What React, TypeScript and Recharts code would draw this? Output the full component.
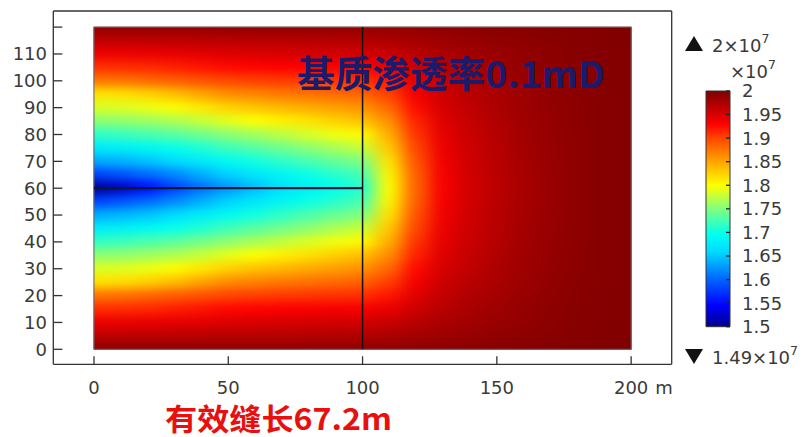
import React from 'react';
import { ScatterChart, Scatter, XAxis, YAxis, BarChart, Bar } from 'recharts';

// grid nodes, metres
const X_COORDS = [0, 10, 20, 30, 40, 50, 60, 70, 80, 90, 100, 110, 120, 130, 140, 150, 160, 170, 180, 190, 200];
const Y_COORDS = [120, 115, 110, 105, 100, 95, 90, 85, 80, 75, 70, 65, 60, 55, 50, 45, 40, 35, 30, 25, 20, 15, 10, 5, 0];

// pore pressure at each node, in units of 1e7 Pa (rows follow Y_COORDS)
const PRESSURE_ROWS = [
  [1.990, 1.990, 1.990, 1.990, 1.990, 1.990, 1.990, 1.990, 1.990, 1.990, 1.990, 1.990, 1.991, 1.992, 1.993, 1.994, 1.995, 1.996, 1.997, 1.998, 2.000],
  [1.965, 1.965, 1.966, 1.966, 1.967, 1.968, 1.968, 1.969, 1.970, 1.971, 1.972, 1.975, 1.979, 1.983, 1.986, 1.989, 1.991, 1.993, 1.995, 1.997, 1.998],
  [1.940, 1.940, 1.941, 1.943, 1.945, 1.948, 1.950, 1.951, 1.952, 1.954, 1.955, 1.959, 1.968, 1.975, 1.980, 1.985, 1.988, 1.992, 1.995, 1.996, 1.998],
  [1.910, 1.911, 1.913, 1.917, 1.922, 1.927, 1.929, 1.931, 1.932, 1.934, 1.935, 1.941, 1.957, 1.968, 1.976, 1.982, 1.987, 1.991, 1.994, 1.996, 1.997],
  [1.875, 1.877, 1.882, 1.888, 1.894, 1.900, 1.903, 1.905, 1.907, 1.909, 1.910, 1.921, 1.946, 1.962, 1.972, 1.979, 1.985, 1.990, 1.993, 1.996, 1.997],
  [1.815, 1.818, 1.825, 1.836, 1.850, 1.863, 1.868, 1.873, 1.877, 1.881, 1.885, 1.902, 1.936, 1.957, 1.968, 1.976, 1.983, 1.989, 1.993, 1.995, 1.997],
  [1.785, 1.787, 1.793, 1.801, 1.812, 1.825, 1.833, 1.840, 1.847, 1.853, 1.860, 1.882, 1.926, 1.952, 1.964, 1.974, 1.982, 1.988, 1.992, 1.995, 1.997],
  [1.755, 1.757, 1.762, 1.768, 1.778, 1.790, 1.800, 1.808, 1.816, 1.826, 1.835, 1.862, 1.916, 1.947, 1.961, 1.972, 1.981, 1.987, 1.992, 1.995, 1.997],
  [1.715, 1.720, 1.727, 1.735, 1.745, 1.755, 1.765, 1.775, 1.785, 1.795, 1.802, 1.845, 1.908, 1.943, 1.959, 1.970, 1.980, 1.987, 1.991, 1.995, 1.997],
  [1.675, 1.680, 1.688, 1.697, 1.708, 1.722, 1.733, 1.744, 1.755, 1.767, 1.778, 1.830, 1.900, 1.940, 1.957, 1.969, 1.979, 1.986, 1.991, 1.995, 1.997],
  [1.635, 1.640, 1.648, 1.660, 1.675, 1.690, 1.702, 1.715, 1.727, 1.739, 1.750, 1.815, 1.893, 1.937, 1.956, 1.968, 1.978, 1.986, 1.991, 1.995, 1.997],
  [1.580, 1.590, 1.603, 1.618, 1.637, 1.655, 1.670, 1.685, 1.699, 1.712, 1.725, 1.805, 1.887, 1.935, 1.955, 1.967, 1.977, 1.985, 1.991, 1.995, 1.997],
  [1.490, 1.520, 1.550, 1.580, 1.605, 1.625, 1.645, 1.665, 1.680, 1.695, 1.710, 1.800, 1.885, 1.934, 1.954, 1.966, 1.977, 1.985, 1.991, 1.995, 1.997],
  [1.580, 1.590, 1.603, 1.618, 1.637, 1.655, 1.670, 1.685, 1.699, 1.712, 1.725, 1.805, 1.887, 1.935, 1.955, 1.967, 1.977, 1.985, 1.991, 1.995, 1.997],
  [1.635, 1.640, 1.648, 1.660, 1.675, 1.690, 1.702, 1.715, 1.727, 1.739, 1.750, 1.815, 1.893, 1.937, 1.956, 1.968, 1.978, 1.986, 1.991, 1.995, 1.997],
  [1.675, 1.680, 1.688, 1.697, 1.708, 1.722, 1.733, 1.744, 1.755, 1.767, 1.778, 1.830, 1.900, 1.940, 1.957, 1.969, 1.979, 1.986, 1.991, 1.995, 1.997],
  [1.715, 1.720, 1.727, 1.735, 1.745, 1.755, 1.765, 1.775, 1.785, 1.795, 1.802, 1.845, 1.908, 1.943, 1.959, 1.970, 1.980, 1.987, 1.991, 1.995, 1.997],
  [1.755, 1.757, 1.762, 1.768, 1.778, 1.790, 1.800, 1.808, 1.816, 1.826, 1.835, 1.862, 1.916, 1.947, 1.961, 1.972, 1.981, 1.987, 1.992, 1.995, 1.997],
  [1.785, 1.787, 1.793, 1.801, 1.812, 1.825, 1.833, 1.840, 1.847, 1.853, 1.860, 1.882, 1.926, 1.952, 1.964, 1.974, 1.982, 1.988, 1.992, 1.995, 1.997],
  [1.815, 1.818, 1.825, 1.836, 1.850, 1.863, 1.868, 1.873, 1.877, 1.881, 1.885, 1.902, 1.936, 1.957, 1.968, 1.976, 1.983, 1.989, 1.993, 1.995, 1.997],
  [1.875, 1.877, 1.882, 1.888, 1.894, 1.900, 1.903, 1.905, 1.907, 1.909, 1.910, 1.921, 1.946, 1.962, 1.972, 1.979, 1.985, 1.990, 1.993, 1.996, 1.997],
  [1.910, 1.911, 1.913, 1.917, 1.922, 1.927, 1.929, 1.931, 1.932, 1.934, 1.935, 1.941, 1.957, 1.968, 1.976, 1.982, 1.987, 1.991, 1.994, 1.996, 1.997],
  [1.940, 1.940, 1.941, 1.943, 1.945, 1.948, 1.950, 1.951, 1.952, 1.954, 1.955, 1.959, 1.968, 1.975, 1.980, 1.985, 1.988, 1.992, 1.995, 1.996, 1.998],
  [1.965, 1.965, 1.966, 1.966, 1.967, 1.968, 1.968, 1.969, 1.970, 1.971, 1.972, 1.975, 1.979, 1.983, 1.986, 1.989, 1.991, 1.993, 1.995, 1.997, 1.998],
  [1.990, 1.990, 1.990, 1.990, 1.990, 1.990, 1.990, 1.990, 1.990, 1.990, 1.990, 1.990, 1.991, 1.992, 1.993, 1.994, 1.995, 1.996, 1.997, 1.998, 2.000],
];

const X_TICKS = [0, 50, 100, 150, 200];
const Y_TICKS = [0, 10, 20, 30, 40, 50, 60, 70, 80, 90, 100, 110, 120];
const COLORBAR_TICKS = [1.5, 1.55, 1.6, 1.65, 1.7, 1.75, 1.8, 1.85, 1.9, 1.95, 2];
const COLORBAR_RANGE = [1.5, 2];

// geometry edges
const FRACTURE = [{ x: 0, y: 60 }, { x: 100, y: 60 }];
const INNER_EDGE = [{ x: 100, y: 0 }, { x: 100, y: 120 }];
const DOMAIN_EDGE = [{ x: 0, y: 0 }, { x: 200, y: 0 }, { x: 200, y: 120 }, { x: 0, y: 120 }, { x: 0, y: 0 }];

// rainbow colour table: value -> rgb
const RAINBOW: [number, number[]][] = [
  [1.5, [0, 0, 140]],
  [1.545, [0, 0, 255]],
  [1.6, [0, 100, 255]],
  [1.66, [0, 220, 255]],
  [1.695, [0, 255, 240]],
  [1.75, [128, 255, 128]],
  [1.8, [255, 255, 0]],
  [1.85, [255, 165, 0]],
  [1.9, [255, 70, 0]],
  [1.93, [255, 0, 0]],
  [2.0, [125, 0, 0]],
];

const rgb = (c: number[]) => `rgb(${c.map((v) => Math.round(v)).join(',')})`;

function rainbow(v: number) {
  if (v <= RAINBOW[0][0]) return rgb(RAINBOW[0][1]);
  for (let i = 1; i < RAINBOW.length; i++) {
    const [v0, c0] = RAINBOW[i - 1];
    const [v1, c1] = RAINBOW[i];
    if (v <= v1) {
      const t = (v - v0) / (v1 - v0);
      return rgb(c0.map((c, k) => c + t * (c1[k] - c)));
    }
  }
  return rgb(RAINBOW[RAINBOW.length - 1][1]);
}

const field = Y_COORDS.flatMap((y, r) => X_COORDS.map((x, c) => ({ x, y, p: PRESSURE_ROWS[r][c] })));
const allP = PRESSURE_ROWS.flat();
const P_MAX = Math.max(...allP);
const P_MIN = Math.min(...allP);

// main plot layout
const CHART_W = 805;
const CHART_H = 437;
const MARGIN = { top: 10, right: 132.3, bottom: 42.7, left: 0 };
const Y_AXIS_W = 53.3;
const X_AXIS_H = 30;
const X_DOMAIN = [-15.15, 215.1];
const Y_DOMAIN = [-5.59, 126.0];
const PLOT_W = CHART_W - MARGIN.left - MARGIN.right - Y_AXIS_W - 1;
const PLOT_H = CHART_H - MARGIN.top - MARGIN.bottom - X_AXIS_H - 1;

const X_STEP = X_COORDS[1] - X_COORDS[0];
const Y_STEP = Y_COORDS[0] - Y_COORDS[1];
const CELL_W = (PLOT_W / (X_DOMAIN[1] - X_DOMAIN[0])) * X_STEP;
const CELL_H = (PLOT_H / (Y_DOMAIN[1] - Y_DOMAIN[0])) * Y_STEP;

// clip in the field's own bounding box (cells overhang the domain by half a step)
const X_SPAN = X_COORDS[X_COORDS.length - 1] - X_COORDS[0];
const Y_SPAN = Y_COORDS[0] - Y_COORDS[Y_COORDS.length - 1];
const BOX_W = X_SPAN + X_STEP;
const BOX_H = Y_SPAN + Y_STEP;

const FONT = "'DejaVu Sans', sans-serif";
const AXIS_COLOR = '#333';
const LABEL_COLOR = '#3a3a3a';

const FieldCell = (props: any) => {
  const { cx, cy, payload } = props;
  return (
    <rect
      x={cx - CELL_W / 2 - 0.5}
      y={cy - CELL_H / 2 - 0.5}
      width={CELL_W + 1}
      height={CELL_H + 1}
      fill={rainbow(payload.p)}
    />
  );
};

const NoPoint = () => <g />;

const XTick = ({ x, y, payload }: any) => (
  <g>
    <text x={x} y={y} dy="0.71em" textAnchor="middle" fontFamily={FONT} fontSize={18} fill={LABEL_COLOR}>
      {payload.value}
    </text>
    {payload.value === X_TICKS[X_TICKS.length - 1] && (
      <text x={x + 24} y={y} dy="0.71em" fontFamily={FONT} fontSize={18} fill={LABEL_COLOR}>
        m
      </text>
    )}
  </g>
);

const YTick = ({ x, y, payload }: any) =>
  payload.value === Y_TICKS[Y_TICKS.length - 1] ? (
    <g />
  ) : (
    <text x={x} y={y} dy="0.355em" textAnchor="end" fontFamily={FONT} fontSize={18} fill={LABEL_COLOR}>
      {payload.value}
    </text>
  );

const BarTick = ({ x, y, payload }: any) => (
  <text x={x} y={y} dy="0.355em" textAnchor="start" fontFamily={FONT} fontSize={18} fill={LABEL_COLOR}>
    {String(payload.value)}
  </text>
);

const colorbarData = [{ name: 'p', range: COLORBAR_RANGE }];

const fmt = (v: number) => String(Math.round(v * 100) / 100);

export default function App() {
  return (
    <div style={{ position: 'fixed', left: 0, top: 0, width: CHART_W, height: CHART_H, background: '#fff' }}>
      <style>{`.pressure-field { filter: url(#fieldBlur); clip-path: url(#fieldClip); }`}</style>

      <ScatterChart width={CHART_W} height={CHART_H} margin={MARGIN}>
        <defs>
          <filter id="fieldBlur" x="-0.05" y="-0.05" width="1.1" height="1.1" colorInterpolationFilters="sRGB">
            <feGaussianBlur stdDeviation="9 5" />
            <feComponentTransfer>
              <feFuncA type="table" tableValues="1 1" />
            </feComponentTransfer>
          </filter>
          <clipPath id="fieldClip" clipPathUnits="objectBoundingBox">
            <rect
              x={X_STEP / 2 / BOX_W}
              y={Y_STEP / 2 / BOX_H}
              width={X_SPAN / BOX_W}
              height={Y_SPAN / BOX_H}
            />
          </clipPath>
        </defs>

        <XAxis
          type="number"
          dataKey="x"
          domain={X_DOMAIN}
          ticks={X_TICKS}
          height={X_AXIS_H}
          tickSize={-8}
          tickMargin={24.9}
          tick={<XTick />}
          axisLine={{ stroke: AXIS_COLOR, strokeWidth: 1.3 }}
          tickLine={{ stroke: AXIS_COLOR, strokeWidth: 1.3 }}
        />
        <XAxis
          xAxisId="top"
          orientation="top"
          type="number"
          domain={X_DOMAIN}
          ticks={X_TICKS}
          height={1}
          tickSize={-8}
          tick={false}
          axisLine={{ stroke: AXIS_COLOR, strokeWidth: 1.3 }}
          tickLine={{ stroke: AXIS_COLOR, strokeWidth: 1.3 }}
        />
        <YAxis
          type="number"
          dataKey="y"
          domain={Y_DOMAIN}
          ticks={Y_TICKS}
          width={Y_AXIS_W}
          tickSize={-9}
          tickMargin={15.3}
          tick={<YTick />}
          axisLine={{ stroke: AXIS_COLOR, strokeWidth: 1.3 }}
          tickLine={{ stroke: AXIS_COLOR, strokeWidth: 1.3 }}
        />
        <YAxis
          yAxisId="right"
          orientation="right"
          type="number"
          domain={Y_DOMAIN}
          ticks={Y_TICKS}
          width={1}
          tickSize={-9}
          tick={false}
          axisLine={{ stroke: AXIS_COLOR, strokeWidth: 1.3 }}
          tickLine={{ stroke: AXIS_COLOR, strokeWidth: 1.3 }}
        />

        <Scatter className="pressure-field" data={field} shape={<FieldCell />} isAnimationActive={false} />
        <Scatter
          data={DOMAIN_EDGE}
          shape={<NoPoint />}
          line={{ stroke: '#6a6a6a', strokeWidth: 1 }}
          isAnimationActive={false}
        />
        <Scatter
          data={INNER_EDGE}
          shape={<NoPoint />}
          line={{ stroke: '#111', strokeWidth: 1.5 }}
          isAnimationActive={false}
        />
        <Scatter
          data={FRACTURE}
          shape={<NoPoint />}
          line={{ stroke: '#0a1838', strokeWidth: 2.2 }}
          isAnimationActive={false}
        />
      </ScatterChart>

      <div style={{ position: 'absolute', left: 676, top: 80 }}>
        <BarChart
          width={129}
          height={260}
          data={colorbarData}
          margin={{ top: 11, right: 0, bottom: 13.3, left: 29 }}
          barCategoryGap={0}
        >
          <defs>
            <linearGradient id="cbGrad" x1="0" y1="1" x2="0" y2="0">
              {RAINBOW.map(([v, c]) => (
                <stop
                  key={v}
                  offset={(v - COLORBAR_RANGE[0]) / (COLORBAR_RANGE[1] - COLORBAR_RANGE[0])}
                  stopColor={rgb(c)}
                />
              ))}
            </linearGradient>
          </defs>
          <XAxis dataKey="name" hide />
          <YAxis
            orientation="right"
            type="number"
            domain={COLORBAR_RANGE}
            ticks={COLORBAR_TICKS}
            width={75}
            tickSize={-4}
            tickMargin={16}
            tick={<BarTick />}
            axisLine={false}
            tickLine={{ stroke: '#222', strokeWidth: 1.3 }}
          />
          <YAxis
            yAxisId="left"
            orientation="left"
            type="number"
            domain={COLORBAR_RANGE}
            ticks={COLORBAR_TICKS}
            width={1}
            tickSize={-4}
            tick={false}
            axisLine={false}
            tickLine={{ stroke: '#222', strokeWidth: 1.3 }}
          />
          <Bar dataKey="range" fill="url(#cbGrad)" stroke="#333" strokeWidth={1} isAnimationActive={false} />
        </BarChart>
      </div>

      <svg
        width={CHART_W}
        height={CHART_H}
        style={{ position: 'absolute', left: 0, top: 0, pointerEvents: 'none' }}
      >
        <g fontFamily={FONT} fill={LABEL_COLOR}>
          <polygon points="685,51 703,51 694,36" fill="#111" />
          <text x={712} y={51.5} fontSize={18}>
            {fmt(P_MAX)}×10
            <tspan dy={-9} fontSize={12.5}>7</tspan>
          </text>
          <text x={730} y={78.3} fontSize={18}>
            ×10
            <tspan dy={-9} fontSize={12.5}>7</tspan>
          </text>
          <polygon points="685,349 703,349 694,364" fill="#111" />
          <text x={712} y={363.5} fontSize={18}>
            {fmt(P_MIN)}×10
            <tspan dy={-9} fontSize={12.5}>7</tspan>
          </text>
        </g>
        <text
          x={297}
          y={88}
          fontFamily="'Noto Sans CJK SC', sans-serif"
          fontWeight={700}
          fontSize={37}
          fill="#1b1b6e"
          textLength={308}
          lengthAdjust="spacingAndGlyphs"
        >
          基质渗透率0.1mD
        </text>
        <text
          x={165}
          y={430}
          fontFamily="'Noto Sans CJK SC', sans-serif"
          fontWeight={700}
          fontSize={30}
          fill="#e8100f"
          textLength={227}
          lengthAdjust="spacingAndGlyphs"
        >
          有效缝长67.2m
        </text>
      </svg>
    </div>
  );
}
